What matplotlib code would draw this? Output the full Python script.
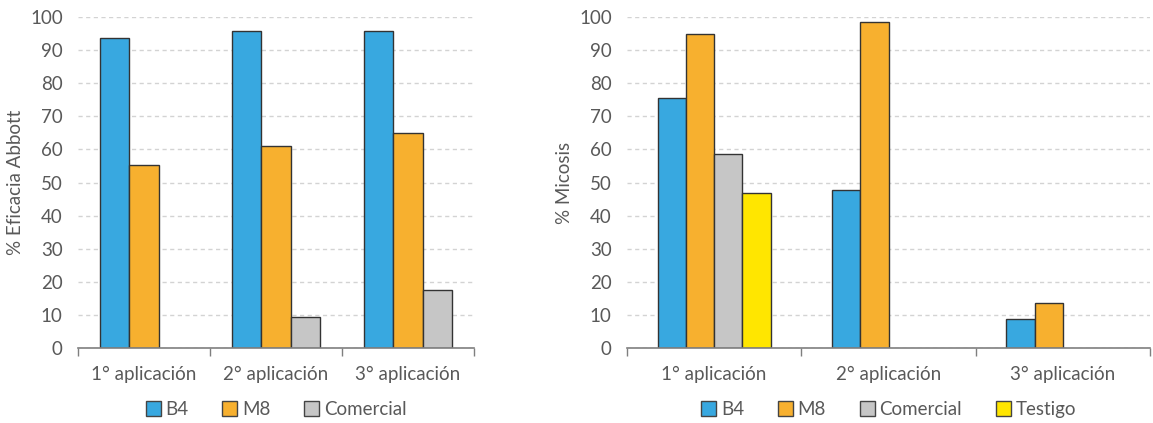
import matplotlib
matplotlib.use("Agg")
import matplotlib.pyplot as plt
import numpy as np
from matplotlib.patches import Patch

plt.rcParams['font.family'] = ['Lato', 'DejaVu Sans']

categories = ["1° aplicación", "2° aplicación", "3° aplicación"]

# Left chart: % Eficacia Abbott
left_series = ["B4", "M8", "Comercial"]
left_b4 = [93.7, 95.7, 95.7]
left_m8 = [55.2, 60.9, 64.9]
left_comercial = [0, 9.5, 17.4]

# Right chart: % Micosis
right_series = ["B4", "M8", "Comercial", "Testigo"]
right_b4 = [75.6, 47.6, 8.8]
right_m8 = [94.8, 98.6, 13.6]
right_comercial = [58.6, 0, 0]
right_testigo = [46.9, 0, 0]

colors = {"B4": "#38a8e0", "M8": "#f7b02f", "Comercial": "#c6c6c6", "Testigo": "#ffe600"}
TEXT = "#595959"

W, H = 1153, 423
fig = plt.figure(figsize=(W / 100, H / 100), dpi=100)


def make_axes(x0, x1, y0, y1):
    return fig.add_axes([x0 / W, 1 - y1 / H, (x1 - x0) / W, (y1 - y0) / H])


def draw(ax, series_names, series_vals, bar_w, ylabel):
    n = len(series_names)
    x = np.arange(len(categories)) + 0.5
    for i, (name, vals) in enumerate(zip(series_names, series_vals)):
        offs = (i - (n - 1) / 2) * bar_w
        v = np.array(vals, dtype=float)
        mask = v > 0
        ax.bar(x[mask] + offs, v[mask], width=bar_w, color=colors[name],
               edgecolor="#333333", linewidth=1.0, zorder=3)
    ax.set_xlim(0, len(categories))
    ax.set_ylim(0, 100)
    ax.set_yticks(range(0, 101, 10))
    ax.yaxis.grid(True, color="#d3d3d3", linestyle=(0, (3.0, 2.5)), linewidth=1.0, zorder=0)
    ax.set_xticks(x)
    ax.set_xticklabels(categories)
    ax.set_xticks(np.arange(len(categories) + 1), minor=True)
    ax.tick_params(axis="x", which="major", length=0, pad=13, labelsize=13.5, labelcolor=TEXT)
    ax.tick_params(axis="x", which="minor", length=6, width=1, color="#7f7f7f", direction="out")
    ax.tick_params(axis="y", length=0, pad=11, labelsize=13.5, labelcolor=TEXT)
    for s in ["top", "right", "left"]:
        ax.spines[s].set_visible(False)
    ax.spines["bottom"].set_color("#7f7f7f")
    ax.spines["bottom"].set_linewidth(1.2)
    ax.spines["bottom"].set_zorder(4)
    ax.set_ylabel(ylabel, fontsize=13.5, color=TEXT, labelpad=4)
    handles = [Patch(facecolor=colors[nm], edgecolor="#444444", linewidth=1.0, label=nm)
               for nm in series_names]
    leg = ax.legend(handles=handles, loc="center", bbox_to_anchor=(0.5, -0.186),
                    ncol=len(series_names), frameon=False, fontsize=13.5,
                    handlelength=0.8, handleheight=0.8, handletextpad=0.25,
                    columnspacing=1.8, borderaxespad=0, borderpad=0)
    for t in leg.get_texts():
        t.set_color(TEXT)


ax1 = make_axes(78, 474, 17, 348)
draw(ax1, left_series, [left_b4, left_m8, left_comercial], 0.22, "% Eficacia Abbott")

ax2 = make_axes(627, 1150, 17, 348)
draw(ax2, right_series, [right_b4, right_m8, right_comercial, right_testigo], 0.162, "% Micosis")

fig.savefig("out.png", dpi=100)
